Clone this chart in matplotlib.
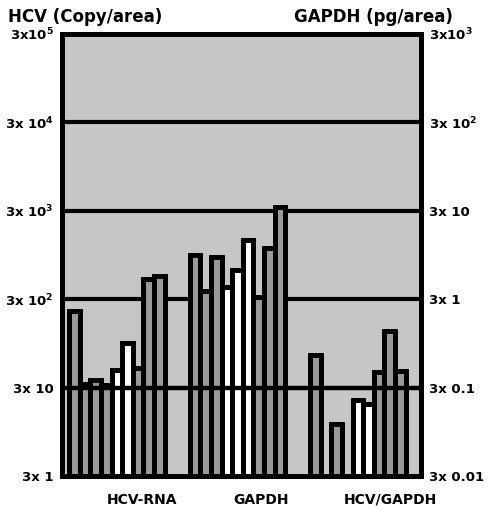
import numpy as np
import matplotlib.pyplot as plt
from matplotlib.ticker import NullFormatter, NullLocator

plt.rcParams['font.family'] = ['DejaVu Sans']
plt.rcParams['font.weight'] = 'bold'
plt.rcParams['mathtext.default'] = 'bf'

groups = ['HCV-RNA', 'GAPDH', 'HCV/GAPDH']
hcv_rna = [223, 33, 37, 32, 47, 95, 50, 510, 550]          # copy/area (left axis)
gapdh = [9.5, 3.75, 9.0, 4.1, 6.5, 14.0, 3.2, 11.4, 33]    # pg/area (right axis)
hcv_gapdh = [0.70, np.nan, 0.117, np.nan, 0.217, 0.196, 0.45, 1.30, 0.46]  # right axis

left_ticks = [3, 30, 300, 3000, 30000, 300000]
left_labels = ['3x 1', '3x 10', '3x 10$^2$', '3x 10$^3$', '3x 10$^4$', '3x10$^5$']
right_ticks = [0.03, 0.3, 3, 30, 300, 3000]
right_labels = ['3x 0.01', '3x 0.1', '3x 1', '3x 10', '3x 10$^2$', '3x10$^3$']

gray = '#999999'
fills = [
    [gray, gray, gray, gray, 'white', 'white', gray, gray, gray],
    [gray, gray, gray, 'white', 'white', 'white', gray, gray, gray],
    [gray, gray, gray, gray, 'white', 'white', gray, gray, gray],
]

fig = plt.figure(figsize=(4.9, 5.17), dpi=100)
ax = fig.add_axes([62 / 490, 41 / 517, 359 / 490, 442 / 517])
ax.set_facecolor('#c6c6c6')
ax.set_yscale('log')
ax.set_ylim(3, 300000)
ax.set_xlim(0, 33.87)

# left axis is 100x the right axis
series = [np.array(hcv_rna), np.array(gapdh) * 100, np.array(hcv_gapdh) * 100]
first, step = 1.18, 11.37
for g, vals in enumerate(series):
    x = first + g * step + np.arange(len(vals))
    ok = ~np.isnan(vals)
    ax.bar(x[ok], vals[ok] - 3, bottom=3, width=1,
           color=[c for c, k in zip(fills[g], ok) if k],
           edgecolor='black', linewidth=3.6, zorder=2)

for v in [300, 3000, 30000]:
    ax.axhline(v, color='black', lw=3, zorder=1.5)
ax.axhline(30, color='black', lw=3.2, zorder=3)

for s in ax.spines.values():
    s.set_linewidth(3.6)
    s.set_zorder(4)

ax.set_xticks([])
ax.set_yticks(left_ticks)
ax.set_yticklabels(left_labels)
ax.yaxis.set_minor_locator(NullLocator())
ax.tick_params(axis='y', length=0, pad=6, labelsize=9.5)

ax2 = ax.twinx()
ax2.set_yscale('log')
ax2.set_ylim(0.03, 3000)
ax2.set_yticks(right_ticks)
ax2.set_yticklabels(right_labels)
ax2.yaxis.set_minor_locator(NullLocator())
ax2.yaxis.set_minor_formatter(NullFormatter())
ax2.tick_params(axis='y', length=0, pad=6, labelsize=9.5)
for s in ax2.spines.values():
    s.set_visible(False)

label_x = [7.55, 18.8, 31.0]
for lx, name in zip(label_x, groups):
    ax.text(lx, -0.054, name, transform=ax.get_xaxis_transform(),
            ha='center', va='center', fontsize=10, fontweight='bold')

fig.text(0.016, 0.967, 'HCV (Copy/area)', ha='left', va='center',
         fontsize=12, fontweight='bold')
fig.text(0.925, 0.967, 'GAPDH (pg/area)', ha='right', va='center',
         fontsize=12, fontweight='bold')

fig.savefig('out.png', dpi=100)
